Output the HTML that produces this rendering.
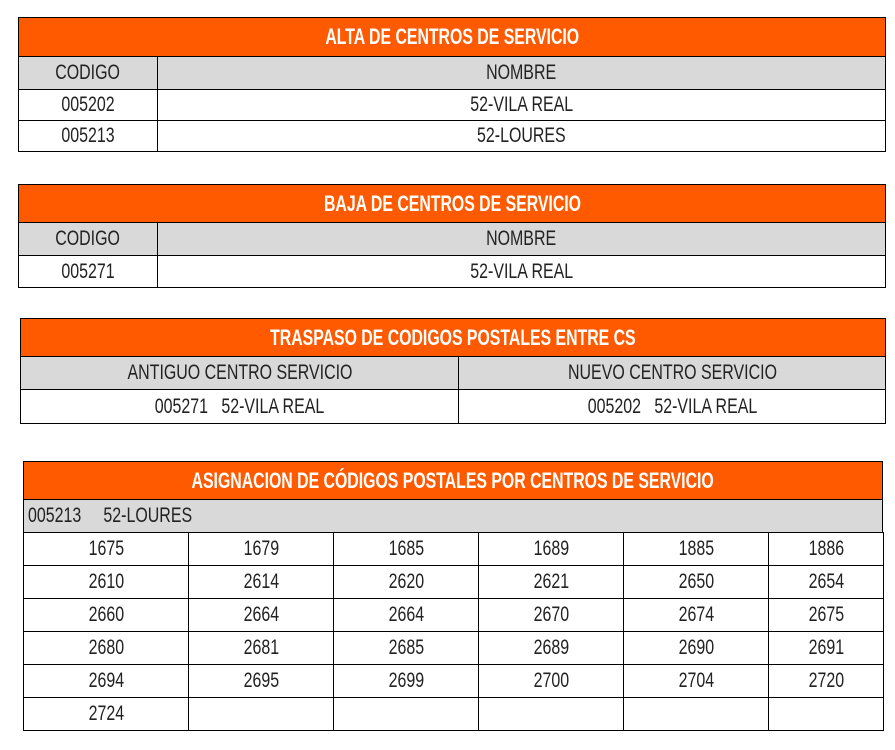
<!DOCTYPE html>
<html><head><meta charset="utf-8"><style>
body{margin:0;width:895px;height:750px;background:#fff;position:relative;overflow:hidden;font-family:"Liberation Sans Narrow","Liberation Sans",sans-serif}
.c{position:absolute;box-sizing:border-box;border:1px solid #000;display:flex;align-items:center;justify-content:center;color:#222;font-size:21px;white-space:nowrap;overflow:visible}
.c span{display:inline-block;transform:scaleX(0.76);transform-origin:center}
.h{background:#FF5A00;color:#fff;font-weight:bold;font-size:22px}
.h span{transform:scaleX(0.72)}
.g{background:#D9D9D9}
.l{justify-content:flex-start;padding-left:4px}
.l span{transform-origin:left}
</style></head><body>
<div>
<div class="c h" style="left:18px;top:17px;width:868px;height:40px"><span>ALTA DE CENTROS DE SERVICIO</span></div>
<div class="c g" style="left:18px;top:56px;width:140px;height:34px"><span>CODIGO</span></div>
<div class="c g" style="left:157px;top:56px;width:729px;height:34px"><span>NOMBRE</span></div>
<div class="c" style="left:18px;top:89px;width:140px;height:32px"><span>005202</span></div>
<div class="c" style="left:157px;top:89px;width:729px;height:32px"><span>52-VILA REAL</span></div>
<div class="c" style="left:18px;top:120px;width:140px;height:32px"><span>005213</span></div>
<div class="c" style="left:157px;top:120px;width:729px;height:32px"><span>52-LOURES</span></div>
</div>
<div>
<div class="c h" style="left:18px;top:184px;width:868px;height:39px"><span>BAJA DE CENTROS DE SERVICIO</span></div>
<div class="c g" style="left:18px;top:222px;width:140px;height:34px"><span>CODIGO</span></div>
<div class="c g" style="left:157px;top:222px;width:729px;height:34px"><span>NOMBRE</span></div>
<div class="c" style="left:18px;top:255px;width:140px;height:33px"><span>005271</span></div>
<div class="c" style="left:157px;top:255px;width:729px;height:33px"><span>52-VILA REAL</span></div>
</div>
<div>
<div class="c h" style="left:20px;top:318px;width:866px;height:39px"><span>TRASPASO DE CODIGOS POSTALES ENTRE CS</span></div>
<div class="c g" style="left:20px;top:356px;width:439px;height:34px"><span>ANTIGUO CENTRO SERVICIO</span></div>
<div class="c g" style="left:458px;top:356px;width:428px;height:34px"><span>NUEVO CENTRO SERVICIO</span></div>
<div class="c" style="left:20px;top:389px;width:439px;height:35px"><span>005271&nbsp;&nbsp;&nbsp;52-VILA REAL</span></div>
<div class="c" style="left:458px;top:389px;width:428px;height:35px"><span>005202&nbsp;&nbsp;&nbsp;52-VILA REAL</span></div>
</div>
<div id="asig">
<div class="c h" style="left:23px;top:461px;width:860px;height:39px"><span>ASIGNACION DE CÓDIGOS POSTALES POR CENTROS DE SERVICIO</span></div>
<div class="c g l" style="left:23px;top:499px;width:860px;height:34px"><span>005213&nbsp;&nbsp;&nbsp;&nbsp;&nbsp;52-LOURES</span></div>
</div>
<script>
const codes=["1675","1679","1685","1689","1885","1886","2610","2614","2620","2621","2650","2654","2660","2664","2664","2670","2674","2675","2680","2681","2685","2689","2690","2691","2694","2695","2699","2700","2704","2720","2724","","","","",""];
const xs=[23,188,333,478,623,768,883];
const t=document.getElementById('asig');
for(let i=0;i<codes.length;i++){
 const r=Math.floor(i/6),c=i%6;
 const d=document.createElement('div');
 d.className='c';
 
 
 d.style.left=xs[c]+'px';d.style.top=(532+r*33)+'px';
 d.style.width=(xs[c+1]-xs[c]+1)+'px';d.style.height='34px';
 const s=document.createElement('span');s.textContent=codes[i];d.appendChild(s);
 t.appendChild(d);
}
</script>
</body></html>
